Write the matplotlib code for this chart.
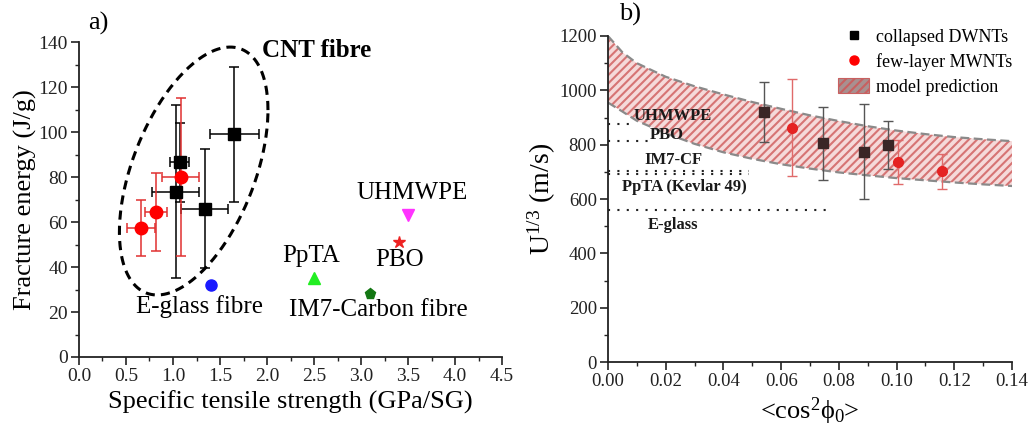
import matplotlib
matplotlib.use("Agg")
from matplotlib import pyplot as plt
from matplotlib.lines import Line2D
from matplotlib.patches import Patch
import numpy as np

plt.rcParams['font.family'] = ['Liberation Serif', 'DejaVu Serif']
plt.rcParams['mathtext.fontset'] = 'custom'
plt.rcParams['mathtext.rm'] = 'Liberation Serif'
plt.rcParams['mathtext.it'] = 'Liberation Serif:italic'
plt.rcParams['hatch.linewidth'] = 1.5

# ---- panel a: fracture energy vs specific strength ----
dwnt_x = [1.65, 1.07, 1.03, 1.34]
dwnt_y = [99, 86.5, 73.5, 66]
dwnt_xerr = [0.26, 0.10, 0.25, 0.25]
dwnt_yerr = [30, 17.5, 38.5, 26.5]

mwnt_x = [0.66, 0.82, 1.08]
mwnt_y = [57.5, 64.5, 80]
mwnt_xerr = [0.15, 0.12, 0.20]
mwnt_yerr = [12.5, 17.5, 35]

# reference fibres: name, x, y, marker, colour, label position
fibre_names = ['E-glass fibre', 'PpTA', 'IM7-Carbon fibre', 'PBO', 'UHMWPE']
fibre_x = [1.40, 2.50, 3.10, 3.40, 3.50]
fibre_y = [32, 35, 28, 51, 63]
fibre_marker = ['o', '^', 'p', '*', 'v']
fibre_color = ['#1a1aff', '#22ee22', '#137713', '#ee2222', '#ff33ff']
fibre_label_x = [1.28, 2.47, 3.18, 3.41, 3.54]
fibre_label_y = [22.5, 45, 21, 43, 73]

# ---- panel b: U^(1/3) vs <cos^2 phi0> ----
band_x = [0, 0.005, 0.01, 0.02, 0.03, 0.04, 0.05, 0.06, 0.07, 0.08,
          0.09, 0.10, 0.11, 0.12, 0.13, 0.14]
band_upper = [1200, 1140, 1100, 1050, 1015, 985, 957, 932, 908, 887,
              868, 852, 839, 828, 820, 813]
band_lower = [955, 922, 888, 842, 803, 772, 748, 728, 712, 698,
              687, 677, 669, 661, 654, 648]

cdwnt_x = [0.0542, 0.0746, 0.0888, 0.0969]
cdwnt_y = [919, 805, 774, 800]
cdwnt_err = [110, 134, 174, 88]

fmwnt_x = [0.0637, 0.1006, 0.1156]
fmwnt_y = [862, 738, 702]
fmwnt_err = [178, 81, 65]

ref_names = ['UHMWPE', 'PBO', 'IM7-CF', 'PpTA (Kevlar 49)', 'E-glass']
ref_level = [876, 814, 704, 694, 560]
ref_end = [0.0077, 0.014, 0.049, 0.049, 0.078]
ref_text_x = [0.0226, 0.0203, 0.0226, 0.0265, 0.0226]
ref_text_y = [906, 836, 744, 643, 504]

fig = plt.figure(figsize=(10.31, 4.26), dpi=100)
ax1 = fig.add_axes([0.0766, 0.162, 0.4104, 0.739])
ax2 = fig.add_axes([0.5897, 0.150, 0.3919, 0.7655])


def style_axis(ax):
    for s in ['top', 'right']:
        ax.spines[s].set_visible(False)
    for s in ['left', 'bottom']:
        ax.spines[s].set_linewidth(1.3)
        ax.spines[s].set_color('#222222')
    ax.tick_params(which='major', direction='out', length=6, width=1.2,
                   labelsize=14, pad=2, colors='#222222')
    ax.tick_params(which='minor', direction='out', length=3, width=1.0,
                   colors='#222222')


# panel a
ax1.errorbar(dwnt_x, dwnt_y, xerr=dwnt_xerr, yerr=dwnt_yerr, fmt='s',
             color='black', ms=8.5, elinewidth=1.1, capsize=3.5, capthick=1.1,
             zorder=3)
ax1.errorbar(mwnt_x, mwnt_y, xerr=mwnt_xerr, yerr=mwnt_yerr, fmt='o',
             color='#ff0000', ecolor='#e03030', ms=9, elinewidth=1.1,
             capsize=3.5, capthick=1.1, zorder=3)
for i in range(len(fibre_names)):
    ax1.plot(fibre_x[i], fibre_y[i], marker=fibre_marker[i], color=fibre_color[i],
             ms=8 if fibre_marker[i] != '*' else 9, ls='none')
    ax1.text(fibre_label_x[i], fibre_label_y[i], fibre_names[i], fontsize=18,
             ha='center', va='center')

# dashed ellipse around the CNT fibre data
t = np.linspace(0, 2 * np.pi, 300)
ax1.plot(1.22 + 0.79 * np.cos(t), 82.7 + 27.1 * np.cos(t) + 48.0 * np.sin(t),
         color='black', lw=2.2, dashes=(3, 2))
ax1.text(2.53, 136.4, 'CNT fibre', fontsize=18, fontweight='bold',
         ha='center', va='center')

ax1.set_xlim(0, 4.5)
ax1.set_ylim(0, 140)
ax1.set_xticks(np.arange(0, 4.51, 0.5))
ax1.set_xticks(np.arange(0, 4.51, 0.25), minor=True)
ax1.set_yticks(np.arange(0, 141, 20))
ax1.set_yticks(np.arange(0, 141, 10), minor=True)
ax1.xaxis.set_major_formatter(matplotlib.ticker.FormatStrFormatter('%.1f'))
style_axis(ax1)
ax1.set_xlabel('Specific tensile strength (GPa/SG)', fontsize=19, labelpad=4)
ax1.set_ylabel('Fracture energy (J/g)', fontsize=19, labelpad=1)
fig.text(0.095, 0.945, 'a)', fontsize=19, ha='center', va='center')

# panel b
ax2.fill_between(band_x, band_lower, band_upper, facecolor='#f5dada',
                 edgecolor='#d67474', hatch='////', linewidth=0, zorder=1)
ax2.plot(band_x, band_upper, color='#8a8a8a', lw=1.6, dashes=(4, 2), zorder=2)
ax2.plot(band_x, band_lower, color='#8a8a8a', lw=1.6, dashes=(4, 2), zorder=2)

for i in range(len(ref_names)):
    ax2.plot([0, ref_end[i]], [ref_level[i], ref_level[i]], color='#222222',
             lw=1.5, ls=(0, (1, 3.5)))
    ax2.text(ref_text_x[i], ref_text_y[i], ref_names[i], fontsize=12,
             fontweight='bold', ha='center', va='center', color='#1a1a1a')

ax2.errorbar(cdwnt_x, cdwnt_y, yerr=cdwnt_err, fmt='s', color='#3a2626',
             ecolor='#555555', ms=6.5, elinewidth=1.0, capsize=3.5,
             capthick=1.0, zorder=4)
ax2.errorbar(fmwnt_x, fmwnt_y, yerr=fmwnt_err, fmt='o', color='#e52222',
             ecolor='#e06a6a', ms=7, elinewidth=1.0, capsize=3.5,
             capthick=1.0, zorder=4)

ax2.set_xlim(0, 0.14)
ax2.set_ylim(0, 1200)
ax2.set_xticks(np.arange(0, 0.141, 0.02))
ax2.set_xticks(np.arange(0, 0.141, 0.01), minor=True)
ax2.set_yticks(np.arange(0, 1201, 200))
ax2.set_yticks(np.arange(0, 1201, 100), minor=True)
ax2.xaxis.set_major_formatter(matplotlib.ticker.FormatStrFormatter('%.2f'))
style_axis(ax2)
ax2.tick_params(labelsize=13.5)
ax2.set_xlabel('<cos$^{2}$ϕ$_{0}$>', fontsize=19, labelpad=4)
ax2.set_ylabel('U$^{1/3}$ (m/s)', fontsize=20, labelpad=1)
fig.text(0.611, 0.965, 'b)', fontsize=19, ha='center', va='center')

handles = [
    Line2D([], [], marker='s', color='black', ls='none', ms=5.5),
    Line2D([], [], marker='o', color='#ff0000', ls='none', ms=6.5),
    Patch(facecolor='#a89090', edgecolor='#c86060', hatch='////', lw=0.8),
]
ax2.legend(handles, ['collapsed DWNTs', 'few-layer MWNTs', 'model prediction'],
           loc='upper right', bbox_to_anchor=(1.0, 1.025), frameon=False,
           fontsize=13, borderpad=0, borderaxespad=0, handlelength=1.75,
           handleheight=0.9, handletextpad=0.35, labelspacing=0.4)

fig.savefig('out.png', dpi=100)
